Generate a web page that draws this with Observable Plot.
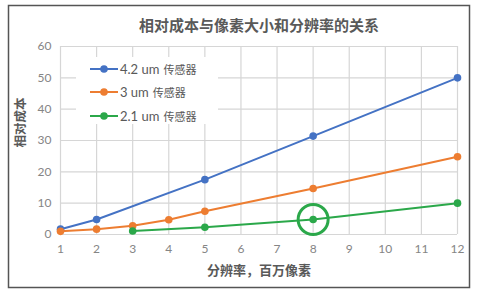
<!DOCTYPE html>
<html>
<head>
<meta charset="utf-8">
<script src="https://cdn.jsdelivr.net/npm/d3@7"></script>
<script src="https://cdn.jsdelivr.net/npm/@observablehq/plot@0.6"></script>
<style>
  body { margin: 0; background: #fff; }
  #wrap { position: relative; width: 478px; height: 296px; font-family: Lato, "Noto Sans CJK SC", sans-serif; }
  #legend { position: absolute; left: 76px; top: 57px; width: 142px; height: 67px; background: #fff; }
  .row { position: absolute; left: 14px; height: 20px; display: flex; align-items: center; font-size: 13px; color: #595959; }
  .row svg { margin-right: 2px; }
  .cjk { font-size: 11px; margin-left: 4px; }
</style>
</head>
<body>
<div id="wrap"></div>
<script>
const title = "相对成本与像素大小和分辨率的关系";
const xLabel = "分辨率，百万像素";
const yLabel = "相对成本";
const seriesNames = ["4.2 um 传感器", "3 um 传感器", "2.1 um 传感器"];
const seriesColors = ["#4472C4", "#ED7D31", "#2BA84A"];
const xTicks = [1, 2, 3, 4, 5, 6, 7, 8, 9, 10, 11, 12];
const yTicks = [0, 10, 20, 30, 40, 50, 60];

const x42 = [1, 2, 5, 8, 12];
const y42 = [1.7, 4.8, 17.5, 31.4, 50];
const x30 = [1, 2, 3, 4, 5, 8, 12];
const y30 = [1, 1.7, 2.8, 4.7, 7.4, 14.7, 24.8];
const x21 = [3, 5, 8, 12];
const y21 = [1.1, 2.3, 4.8, 10];
const highlight = [{x: 8, y: 4.8}];

const data = [
  ...x42.map((x, i) => ({s: seriesNames[0], x, y: y42[i]})),
  ...x30.map((x, i) => ({s: seriesNames[1], x, y: y30[i]})),
  ...x21.map((x, i) => ({s: seriesNames[2], x, y: y21[i]}))
];

const chart = Plot.plot({
  width: 478,
  height: 296,
  marginLeft: 60,
  marginRight: 21,
  marginTop: 46,
  marginBottom: 62,
  style: {fontFamily: "Lato, 'Noto Sans CJK SC', sans-serif", background: "#fff"},
  x: {domain: [1, 12]},
  y: {domain: [0, 60]},
  color: {domain: seriesNames, range: seriesColors},
  marks: [
    Plot.frame({stroke: "#555", strokeWidth: 1.5, insetLeft: -52, insetTop: -41, insetRight: -12, insetBottom: -53}),
    Plot.gridX(xTicks, {stroke: "#d6d6d6", strokeOpacity: 1, strokeWidth: 1.2}),
    Plot.gridY(yTicks, {stroke: "#d6d6d6", strokeOpacity: 1, strokeWidth: 1.2}),
    Plot.axisX(xTicks, {tickSize: 0, tickPadding: 10, label: null, fontSize: 12, fill: "#858585"}),
    Plot.axisY(yTicks, {tickSize: 0, tickPadding: 9, label: null, fontSize: 12, fill: "#858585"}),
    Plot.line(data, {x: "x", y: "y", z: "s", stroke: "s", strokeWidth: 2}),
    Plot.dot(data, {x: "x", y: "y", fill: "s", r: 3.8}),
    Plot.dot(highlight, {x: "x", y: "y", r: 15, stroke: seriesColors[2], strokeWidth: 3, fill: "none"}),
    Plot.text([title], {frameAnchor: "top", dy: -26, fontSize: 15, fontWeight: "bold", fill: "#595959"}),
    Plot.text([xLabel], {frameAnchor: "bottom", dy: 40, fontSize: 13, fontWeight: "bold", fill: "#595959"}),
    Plot.text([yLabel], {frameAnchor: "left", dx: -40, dy: 7, rotate: -90, fontSize: 12.5, fontWeight: "bold", fill: "#595959"})
  ]
});

const wrap = document.getElementById("wrap");
wrap.appendChild(chart);

const legend = document.createElement("div");
legend.id = "legend";
seriesNames.forEach((name, i) => {
  const row = document.createElement("div");
  row.className = "row";
  row.style.top = (2 + i * 23.3) + "px";
  const [num, cjk] = [name.slice(0, name.lastIndexOf(" ")), name.slice(name.lastIndexOf(" ") + 1)];
  row.innerHTML = `<svg width="28" height="10"><line x1="0" y1="5" x2="28" y2="5" stroke="${seriesColors[i]}" stroke-width="2"/><circle cx="14" cy="5" r="3.8" fill="${seriesColors[i]}"/></svg><span>${num}</span><span class="cjk">${cjk}</span>`;
  legend.appendChild(row);
});
wrap.appendChild(legend);
</script>
</body>
</html>
